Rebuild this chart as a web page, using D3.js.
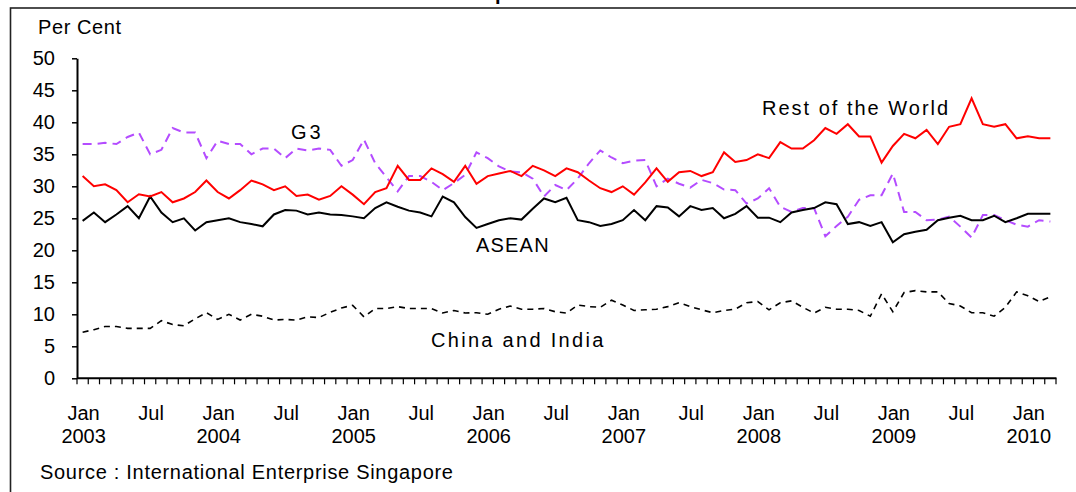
<!DOCTYPE html>
<html>
<head>
<meta charset="utf-8">
<script src="https://cdn.jsdelivr.net/npm/d3@7"></script>
<style>
  body { margin: 0; background: #fff; }
  text { font-family: "Liberation Sans", Arial, sans-serif; fill: #000; }
</style>
</head>
<body>
<div id="chart"></div>
<script>
// monthly, Jan 2003 .. Mar 2010
var months = d3.timeMonth.range(new Date(2003, 0, 1), new Date(2010, 3, 1));

var restOfWorld = [31.6,30.0,30.3,29.4,27.5,28.75,28.4,29.1,27.5,28.1,29.1,30.9,
  29.1,28.1,29.4,30.9,30.3,29.4,30.0,28.5,28.7,27.9,28.5,30.0,
  28.7,27.2,29.1,29.7,33.2,31.0,31.0,32.8,31.9,30.7,33.2,30.4,
  31.6,32.0,32.4,31.6,33.2,32.5,31.6,32.8,32.2,30.9,29.7,29.1,
  30.0,28.7,30.6,32.8,30.7,32.2,32.4,31.6,32.2,35.3,33.8,34.1,
  35.0,34.4,36.9,35.9,35.9,37.2,39.1,38.2,39.7,37.8,37.8,33.7,
  36.3,38.2,37.5,38.8,36.6,39.3,39.7,43.75,39.7,39.3,39.7,37.5,
  37.8,37.5,37.5];

var asean = [24.6,25.9,24.4,25.6,26.9,25.0,28.4,25.9,24.4,25.0,23.1,24.4,
  24.7,25.0,24.4,24.1,23.75,25.6,26.3,26.2,25.6,25.9,25.6,25.5,
  25.3,25.0,26.6,27.5,26.8,26.2,25.9,25.3,28.4,27.5,25.2,23.5,
  24.1,24.7,25.0,24.8,26.5,28.1,27.5,28.2,24.7,24.4,23.8,24.1,
  24.7,26.3,24.7,26.9,26.7,25.3,26.9,26.3,26.6,25.0,25.7,26.9,
  25.1,25.1,24.4,25.9,26.3,26.6,27.5,27.2,24.1,24.4,23.8,24.4,
  21.25,22.5,22.9,23.2,24.7,25.1,25.4,24.7,24.7,25.4,24.4,25.0,
  25.7,25.7,25.7];

var g3 = [36.6,36.6,36.8,36.6,37.7,38.4,35.0,35.7,39.1,38.4,38.4,34.4,
  37.1,36.6,36.6,35.0,35.9,35.9,34.4,35.9,35.6,35.9,35.7,33.2,
  34.1,37.3,33.6,31.4,29.2,31.6,31.6,30.7,29.4,30.5,31.8,35.3,
  34.4,33.1,32.3,32.2,31.2,28.4,30.2,29.4,31.2,33.6,35.6,34.5,
  33.6,34.0,34.1,30.0,31.2,30.4,29.8,31.0,30.5,29.5,29.4,27.3,
  28.1,29.7,26.8,26.0,26.6,26.6,22.2,23.8,25.25,27.9,28.6,28.6,
  32.0,26.0,26.0,24.7,24.8,25.25,23.7,22.0,25.5,25.5,24.7,24.0,
  23.7,24.7,24.5];

var chinaIndia = [7.2,7.6,8.1,8.1,7.8,7.8,7.8,9.0,8.4,8.2,9.3,10.25,
  9.2,10.0,9.1,10.0,9.7,9.1,9.2,9.1,9.6,9.5,10.3,11.0,
  11.4,9.6,10.9,10.9,11.2,10.9,10.9,10.9,10.2,10.6,10.2,10.25,
  10.0,10.8,11.3,10.8,10.8,10.9,10.4,10.2,11.45,11.2,11.1,12.2,
  11.45,10.6,10.7,10.8,11.2,11.8,11.2,10.7,10.25,10.6,10.8,11.8,
  12.0,10.7,11.8,12.1,11.1,10.2,11.1,10.8,10.8,10.6,9.7,13.2,
  10.4,13.4,13.7,13.5,13.5,11.7,11.3,10.25,10.25,9.7,11.1,13.5,
  12.9,12.0,12.75];

var yTicks = [0,5,10,15,20,25,30,35,40,45,50];
var monthNames = ["Jan","Jul"];

var width = 1076, height = 492;

var svg = d3.select("#chart").append("svg")
  .attr("width", width)
  .attr("height", height);

// outer frame (runs off right and bottom like the source picture)
svg.append("rect")
  .attr("x", 10.5).attr("y", 8)
  .attr("width", 1200).attr("height", 600)
  .attr("fill", "none").attr("stroke", "#222").attr("stroke-width", 1.6);

// title, mostly cut off at the top edge as in the source
svg.append("text")
  .attr("x", 545).attr("y", 0)
  .attr("text-anchor", "end")
  .style("font-size", "20px").style("font-weight", "bold")
  .text("Chart 1.3: Shares of Non-oil Domestic Exports");

var x = d3.scalePoint()
  .domain(d3.range(months.length))
  .range([77, 1056])
  .padding(0.5);
var step = x.step();

var y = d3.scaleLinear().domain([0, 50]).range([378.3, 58.3]);

// y axis
var yAxis = svg.append("g").attr("transform", "translate(77,0)")
  .call(d3.axisLeft(y).tickValues(yTicks).tickSize(5).tickSizeOuter(0));
yAxis.select(".domain").attr("stroke", "#000").attr("stroke-width", 2);
yAxis.selectAll(".tick line").attr("stroke", "#000").attr("stroke-width", 1.5);
yAxis.selectAll(".tick text")
  .attr("x", -22)
  .style("font-size", "20px")
  .style("font-family", "'Liberation Sans', Arial, sans-serif");

svg.append("text")
  .attr("x", 38).attr("y", 34)
  .style("font-size", "20px")
  .style("letter-spacing", "0.6px")
  .text("Per Cent");

// x axis line + monthly ticks between categories
svg.append("line")
  .attr("x1", 77).attr("x2", 1056.5)
  .attr("y1", y(0)).attr("y2", y(0))
  .attr("stroke", "#000").attr("stroke-width", 2);

svg.append("g").selectAll("line")
  .data(d3.range(months.length + 1))
  .enter().append("line")
  .attr("x1", function(d) { return 77 + d * step; })
  .attr("x2", function(d) { return 77 + d * step; })
  .attr("y1", y(0)).attr("y2", y(0) + 6)
  .attr("stroke", "#000").attr("stroke-width", 1.2);

var labelIdx = d3.range(months.length).filter(function(i) { return months[i].getMonth() % 6 == 0; });
var xl = svg.append("g").selectAll("g")
  .data(labelIdx)
  .enter().append("g")
  .attr("transform", function(i) { return "translate(" + (x(i) + 1) + ",0)"; });
xl.append("text")
  .attr("y", 420)
  .attr("text-anchor", "middle")
  .style("font-size", "20px")
  .text(function(i) { return monthNames[months[i].getMonth() / 6]; });
xl.filter(function(i) { return months[i].getMonth() == 0; })
  .append("text")
  .attr("y", 443)
  .attr("text-anchor", "middle")
  .style("font-size", "20px")
  .text(function(i) { return months[i].getFullYear(); });

// series
var line = d3.line()
  .x(function(d, i) { return x(i); })
  .y(function(d) { return y(d); });

var series = [
  {values: chinaIndia, color: "#000", width: 1.6, dash: "6,5"},
  {values: g3, color: "#b44cff", width: 2, dash: "9,6"},
  {values: asean, color: "#000", width: 2, dash: null},
  {values: restOfWorld, color: "#ff0000", width: 2, dash: null}
];

svg.append("g").selectAll("path")
  .data(series)
  .enter().append("path")
  .attr("d", function(s) { return line(s.values); })
  .attr("fill", "none")
  .attr("stroke", function(s) { return s.color; })
  .attr("stroke-width", function(s) { return s.width; })
  .attr("stroke-dasharray", function(s) { return s.dash; })
  .attr("stroke-linejoin", "miter");

// series labels
var labels = [
  {text: "Rest of the World", x: 762, y: 115, ls: 2},
  {text: "G3", x: 291, y: 139, ls: 3},
  {text: "ASEAN", x: 476, y: 252, ls: 1.2},
  {text: "China and India", x: 431, y: 347, ls: 2.3}
];
svg.append("g").selectAll("text")
  .data(labels)
  .enter().append("text")
  .attr("x", function(d) { return d.x; })
  .attr("y", function(d) { return d.y; })
  .style("font-size", "20px")
  .style("letter-spacing", function(d) { return d.ls + "px"; })
  .text(function(d) { return d.text; });

svg.append("text")
  .attr("x", 40).attr("y", 479)
  .style("font-size", "20px")
  .style("letter-spacing", "0.7px")
  .text("Source : International Enterprise Singapore");
</script>
</body>
</html>
